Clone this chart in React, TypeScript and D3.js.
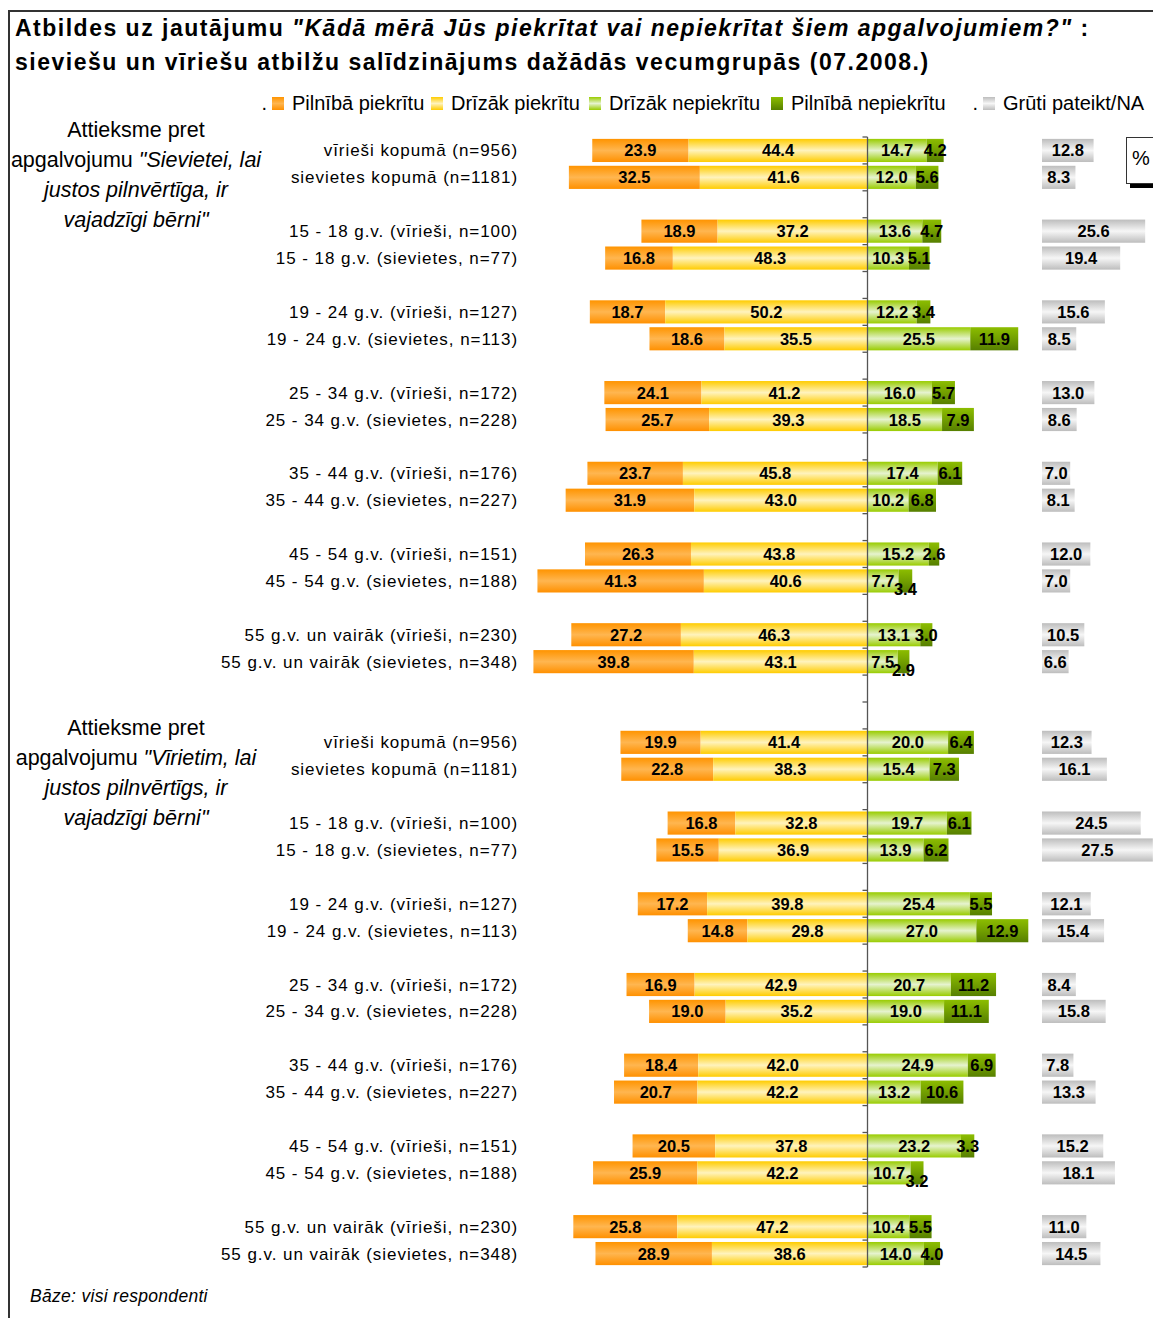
import * as d3 from "d3";

// row labels are the same for both statements
const rowLabels = [
  "vīrieši kopumā (n=956)",
  "sievietes kopumā (n=1181)",
  "15 - 18 g.v. (vīrieši, n=100)",
  "15 - 18 g.v. (sievietes, n=77)",
  "19 - 24 g.v. (vīrieši, n=127)",
  "19 - 24 g.v. (sievietes, n=113)",
  "25 - 34 g.v. (vīrieši, n=172)",
  "25 - 34 g.v. (sievietes, n=228)",
  "35 - 44 g.v. (vīrieši, n=176)",
  "35 - 44 g.v. (sievietes, n=227)",
  "45 - 54 g.v. (vīrieši, n=151)",
  "45 - 54 g.v. (sievietes, n=188)",
  "55 g.v. un vairāk (vīrieši, n=230)",
  "55 g.v. un vairāk (sievietes, n=348)",
];

const seriesNames = ["Pilnībā piekrītu", "Drīzāk piekrītu", "Drīzāk nepiekrītu", "Pilnībā nepiekrītu", "Grūti pateikt/NA"];

// "Sievietei, lai justos pilnvērtīga, ir vajadzīgi bērni"
const s1FullyAgree = [23.9, 32.5, 18.9, 16.8, 18.7, 18.6, 24.1, 25.7, 23.7, 31.9, 26.3, 41.3, 27.2, 39.8];
const s1RatherAgree = [44.4, 41.6, 37.2, 48.3, 50.2, 35.5, 41.2, 39.3, 45.8, 43.0, 43.8, 40.6, 46.3, 43.1];
const s1RatherDisagree = [14.7, 12.0, 13.6, 10.3, 12.2, 25.5, 16.0, 18.5, 17.4, 10.2, 15.2, 7.7, 13.1, 7.5];
const s1FullyDisagree = [4.2, 5.6, 4.7, 5.1, 3.4, 11.9, 5.7, 7.9, 6.1, 6.8, 2.6, 3.4, 3.0, 2.9];
const s1DontKnow = [12.8, 8.3, 25.6, 19.4, 15.6, 8.5, 13.0, 8.6, 7.0, 8.1, 12.0, 7.0, 10.5, 6.6];

// "Vīrietim, lai justos pilnvērtīgs, ir vajadzīgi bērni"
const s2FullyAgree = [19.9, 22.8, 16.8, 15.5, 17.2, 14.8, 16.9, 19.0, 18.4, 20.7, 20.5, 25.9, 25.8, 28.9];
const s2RatherAgree = [41.4, 38.3, 32.8, 36.9, 39.8, 29.8, 42.9, 35.2, 42.0, 42.2, 37.8, 42.2, 47.2, 38.6];
const s2RatherDisagree = [20.0, 15.4, 19.7, 13.9, 25.4, 27.0, 20.7, 19.0, 24.9, 13.2, 23.2, 10.7, 10.4, 14.0];
const s2FullyDisagree = [6.4, 7.3, 6.1, 6.2, 5.5, 12.9, 11.2, 11.1, 6.9, 10.6, 3.3, 3.2, 5.5, 4.0];
const s2DontKnow = [12.3, 16.1, 24.5, 27.5, 12.1, 15.4, 8.4, 15.8, 7.8, 13.3, 15.2, 18.1, 11.0, 14.5];

type Row = { key: string; label: string; v: number[] };

const buildRows = (sec: string, cols: number[][]): (Row | string)[] => {
  const out: (Row | string)[] = [];
  rowLabels.forEach((label, i) => {
    if (i > 0 && i % 2 === 0) out.push(`${sec}-gap-${i}`);
    out.push({ key: `${sec}-${i}`, label, v: cols.map((c) => c[i]) });
  });
  return out;
};

const allItems: (Row | string)[] = [
  ...buildRows("s1", [s1FullyAgree, s1RatherAgree, s1RatherDisagree, s1FullyDisagree, s1DontKnow]),
  "mid-gap-a",
  "mid-gap-b",
  ...buildRows("s2", [s2FullyAgree, s2RatherAgree, s2RatherDisagree, s2FullyDisagree, s2DontKnow]),
];
const rows = allItems.filter((d): d is Row => typeof d !== "string");
const keys = allItems.map((d) => (typeof d === "string" ? d : d.key));

const W = 1153;
const H = 1318;
const PX = 4.03;
const ZERO = 867.5;

const x = d3.scaleLinear().domain([-80, 40]).range([ZERO - 80 * PX, ZERO + 40 * PX]);
const xGrey = d3.scaleLinear().domain([0, 30]).range([1042, 1042 + 30 * PX]);
const y = d3.scaleBand<string>().domain(keys).range([137, 1267]).paddingInner(0.14).paddingOuter(0.07);

const grads = ["gOrange", "gYellow", "gLight", "gDark", "gGrey"];
const gradStops: [string, string, string][] = [
  ["#ff9400", "#ffb650", "#ff9000"],
  ["#ffcc00", "#fff3bd", "#ffcc00"],
  ["#99cc00", "#e6f3cf", "#99cc00"],
  ["#8cbd00", "#729f00", "#567f00"],
  ["#bdbdbd", "#f6f6f6", "#bdbdbd"],
];

const labelFont = "'Liberation Sans Narrow', 'Arial Narrow', 'Liberation Sans', Arial, sans-serif";
const font = "'Liberation Sans', Arial, sans-serif";
const LABEL_FS = 16.5;

const fmt = d3.format(".1f");

// rough Arial-bold width of a value label, used for the label-collision nudge
const labelWidth = (s: string) =>
  s.split("").reduce((w, ch) => w + (ch === "." ? 0.278 : 0.556) * LABEL_FS, 0);

const sectionTitles = [
  { top: 137, quote: "\"Sievietei, lai", l3: "justos pilnvērtīga, ir" },
  { top: 735, quote: "\"Vīrietim, lai", l3: "justos pilnvērtīgs, ir" },
];

export default function App() {
  const bw = y.bandwidth();
  const step = y.step();
  const y0 = y.range()[0];
  const tickYs = d3.range(keys.length + 1).map((i) => y0 + i * step);

  const segs: { key: string; x0: number; x1: number; v: number; s: number; cy: number; top: number; dy: number }[] = [];
  rows.forEach((r) => {
    const top = y(r.key)!;
    const cy = top + bw / 2;
    const [a, b, c, d, e] = r.v;
    // dark green label drops down when it would run into the light green one
    const lightRight = (x(0) + x(c)) / 2 + labelWidth(fmt(c)) / 2;
    const darkLeft = (x(c) + x(c + d)) / 2 - labelWidth(fmt(d)) / 2;
    const nudge = darkLeft - lightRight < 2 ? 8 : 0;
    segs.push({ key: r.key + "a", x0: x(-(a + b)), x1: x(-b), v: a, s: 0, cy, top, dy: 0 });
    segs.push({ key: r.key + "b", x0: x(-b), x1: x(0), v: b, s: 1, cy, top, dy: 0 });
    segs.push({ key: r.key + "c", x0: x(0), x1: x(c), v: c, s: 2, cy, top, dy: 0 });
    segs.push({ key: r.key + "d", x0: x(c), x1: x(c + d), v: d, s: 3, cy, top, dy: nudge });
    segs.push({ key: r.key + "e", x0: xGrey(0), x1: xGrey(e), v: e, s: 4, cy, top, dy: 0 });
  });

  const legendItems = [
    { s: 0, x: 272, dot: true },
    { s: 1, x: 431 },
    { s: 2, x: 589 },
    { s: 3, x: 771 },
    { s: 4, x: 983, dot: true },
  ];

  return (
    <svg width={W} height={H} style={{ position: "absolute", left: 0, top: 0, background: "#fff" }}>
      <defs>
        {grads.map((id, i) => (
          <linearGradient key={id} id={id} x1="0" y1="0" x2="0" y2="1">
            <stop offset="0" stopColor={gradStops[i][0]} />
            <stop offset="0.5" stopColor={gradStops[i][1]} />
            <stop offset="1" stopColor={gradStops[i][2]} />
          </linearGradient>
        ))}
      </defs>

      {/* frame */}
      <path d={`M9,${H} V11 H${W}`} fill="none" stroke="#333" strokeWidth={2} />

      {/* title */}
      <g fontFamily={font} fontWeight="bold" fontSize={23} letterSpacing={1.5} fill="#000">
        <text x={15} y={36}>
          Atbildes uz jautājumu{" "}
          <tspan fontStyle="italic">"Kādā mērā Jūs piekrītat vai nepiekrītat šiem apgalvojumiem?"</tspan> :
        </text>
        <text x={15} y={70}>
          sieviešu un vīriešu atbilžu salīdzinājums dažādās vecumgrupās (07.2008.)
        </text>
      </g>

      {/* legend */}
      <g fontFamily={font} fontSize={20} fill="#000">
        {legendItems.map((it) => (
          <g key={it.s}>
            {it.dot && (
              <text x={it.x - 5} y={110} textAnchor="end">
                .
              </text>
            )}
            <rect x={it.x} y={97} width={12} height={13} fill={`url(#${grads[it.s]})`} />
            <text x={it.x + 20} y={110}>
              {seriesNames[it.s]}
            </text>
          </g>
        ))}
      </g>

      {/* % box */}
      <rect x={1130} y={183} width={30} height={5} fill="#000" />
      <rect x={1126.5} y={137.5} width={35} height={46} fill="#fff" stroke="#333" />
      <text x={1141} y={165} textAnchor="middle" fontFamily={font} fontSize={20}>
        %
      </text>

      {/* section titles */}
      {sectionTitles.map((t) => (
        <text key={t.top} textAnchor="middle" fontFamily={font} fontSize={21.5} fill="#000">
          <tspan x={136} y={t.top}>Attieksme pret</tspan>
          <tspan x={136} y={t.top + 30}>
            apgalvojumu <tspan fontStyle="italic">{t.quote}</tspan>
          </tspan>
          <tspan x={136} y={t.top + 60} fontStyle="italic">{t.l3}</tspan>
          <tspan x={136} y={t.top + 90} fontStyle="italic">vajadzīgi bērni"</tspan>
        </text>
      ))}

      {/* row labels */}
      <g fontFamily={font} fontSize={17} letterSpacing={0.95} textAnchor="end" fill="#000">
        {rows.map((r) => (
          <text key={r.key} x={518} y={y(r.key)! + bw / 2 + 6}>
            {r.label}
          </text>
        ))}
      </g>

      {/* bars */}
      {segs.map((d) => (
        <rect key={d.key} x={d.x0} y={d.top} width={Math.max(0, d.x1 - d.x0)} height={bw} fill={`url(#${grads[d.s]})`} />
      ))}

      {/* zero axis */}
      <g stroke="#555" strokeWidth={1.3}>
        <line x1={ZERO} x2={ZERO} y1={tickYs[0]} y2={tickYs[tickYs.length - 1]} />
        {tickYs.map((t, i) => (
          <line key={i} x1={ZERO - 5} x2={ZERO} y1={t} y2={t} />
        ))}
      </g>

      {/* value labels */}
      <g fontFamily={labelFont} fontWeight="bold" fontSize={LABEL_FS} textAnchor="middle" fill="#000">
        {segs.map((d) => (
          <text key={d.key} x={(d.x0 + d.x1) / 2} y={d.cy + 6 + d.dy}>
            {fmt(d.v)}
          </text>
        ))}
      </g>

      {/* footer */}
      <text x={30} y={1302} fontFamily={font} fontStyle="italic" fontSize={17.5} letterSpacing={0.3} fill="#000">
        Bāze: visi respondenti
      </text>
    </svg>
  );
}
